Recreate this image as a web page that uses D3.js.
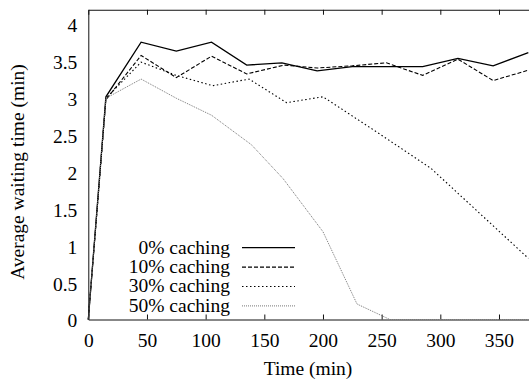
<!DOCTYPE html>
<html>
<head>
<meta charset="utf-8">
<script src="https://cdn.jsdelivr.net/npm/d3@7"></script>
<style>
  body { margin: 0; background: #fff; }
  svg { display: block; }
  text { font-family: "Liberation Serif", "Times New Roman", "DejaVu Serif", serif; }
</style>
</head>
<body>
<svg width="529" height="383"></svg>
<script>
// data
var labels = ['0% caching', '10% caching', '30% caching', '50% caching'];

var time0  = [0, 15, 45, 75, 105, 135, 165, 195, 225, 255, 285, 315, 345, 375];
var wait0  = [0, 3.02, 3.76, 3.64, 3.76, 3.45, 3.48, 3.37, 3.43, 3.43, 3.43, 3.54, 3.44, 3.62];

var time10 = [0, 15, 45, 75, 105, 135, 167, 195, 225, 254, 285, 315, 345, 375];
var wait10 = [0, 2.98, 3.58, 3.28, 3.57, 3.33, 3.45, 3.41, 3.44, 3.48, 3.31, 3.53, 3.24, 3.38];

var time30 = [0, 15, 45, 75, 106, 137, 169, 200, 246, 292, 375];
var wait30 = [0, 3.0, 3.49, 3.31, 3.17, 3.26, 2.94, 3.02, 2.54, 2.05, 0.83];

var time50 = [0, 15, 45, 75, 105, 139, 166, 200, 229, 257, 375];
var wait50 = [0, 3.0, 3.26, 3.0, 2.77, 2.37, 1.91, 1.19, 0.21, 0, 0];

var xTicks = [0, 50, 100, 150, 200, 250, 300, 350];
var yTicks = [0, 0.5, 1, 1.5, 2, 2.5, 3, 3.5, 4];

var series = [
  { name: labels[0], t: time0,  v: wait0,  color: '#000', width: 1.3, dash: null },
  { name: labels[1], t: time10, v: wait10, color: '#000', width: 1.1, dash: '4,2' },
  { name: labels[2], t: time30, v: wait30, color: '#000', width: 1.1, dash: '1.5,2.5' },
  { name: labels[3], t: time50, v: wait50, color: '#777', width: 1,   dash: '1,1' }
];

var svg = d3.select('svg');
var plotLeft = 88.3, plotTop = 9.75, plotBottom = 319.5, plotRight = 534.2;
var serif = '"Liberation Serif", "Times New Roman", "DejaVu Serif", serif';

var xScale = d3.scaleLinear().domain([0, 380]).range([plotLeft, plotRight]);
var yScale = d3.scaleLinear().domain([0, 4.2]).range([plotBottom, plotTop]);

svg.append('clipPath').attr('id', 'plot')
  .append('rect')
    .attr('x', plotLeft - 2).attr('y', plotTop - 2)
    .attr('width', plotRight - plotLeft + 4).attr('height', plotBottom - plotTop + 4);

// bottom axis, ticks pointing inward
var gx = svg.append('g')
  .attr('transform', 'translate(0,' + plotBottom + ')')
  .call(d3.axisBottom(xScale).tickValues(xTicks).tickSize(-5).tickSizeOuter(0));
gx.selectAll('text').attr('y', 27).attr('dy', 0);

// mirrored ticks on top
svg.append('g')
  .attr('transform', 'translate(0,' + plotTop + ')')
  .call(d3.axisTop(xScale).tickValues(xTicks).tickSize(-5).tickSizeOuter(0).tickFormat(''));

// left axis
var gy = svg.append('g')
  .attr('transform', 'translate(' + plotLeft + ',0)')
  .call(d3.axisLeft(yScale).tickValues(yTicks).tickSize(0).tickSizeOuter(0).tickPadding(11)
    .tickFormat(function(d) { return String(d); }));
gy.selectAll('text').attr('dy', '0.38em');

svg.selectAll('g').attr('font-family', serif);
svg.selectAll('.domain').attr('stroke', '#111').attr('stroke-width', 1);
svg.selectAll('.tick line').attr('stroke', '#111');
svg.selectAll('.tick text')
  .attr('fill', '#000')
  .attr('font-family', serif)
  .style('font-size', '19.5px');

// axis titles
svg.append('text')
  .attr('x', 308).attr('y', 375)
  .attr('text-anchor', 'middle')
  .attr('font-family', serif)
  .style('font-size', '19.5px')
  .text('Time (min)');

svg.append('text')
  .attr('transform', 'translate(24,172) rotate(-90)')
  .attr('text-anchor', 'middle')
  .attr('font-family', serif)
  .style('font-size', '19.5px')
  .text('Average waiting time (min)');

var line = d3.line()
  .x(function(d) { return xScale(d[0]); })
  .y(function(d) { return yScale(d[1]); });

svg.append('g').attr('clip-path', 'url(#plot)')
  .selectAll('path')
  .data(series)
  .enter()
  .append('path')
    .attr('fill', 'none')
    .attr('stroke', function(d) { return d.color; })
    .attr('stroke-width', function(d) { return d.width; })
    .attr('stroke-dasharray', function(d) { return d.dash; })
    .attr('d', function(d) { return line(d.t.map(function(t, i) { return [t, d.v[i]]; })); });

// legend
var legend = svg.append('g')
  .selectAll('g')
  .data(series)
  .enter()
  .append('g')
    .attr('transform', function(d, i) { return 'translate(0,' + (247.7 + i * 19.4) + ')'; });

legend.append('text')
  .attr('x', 230).attr('y', 0).attr('dy', '0.3em')
  .attr('text-anchor', 'end')
  .attr('font-family', serif)
  .style('font-size', '19.5px')
  .text(function(d) { return d.name; });

legend.append('line')
  .attr('x1', 242).attr('x2', 295)
  .attr('stroke', function(d) { return d.color; })
  .attr('stroke-width', function(d) { return d.width; })
  .attr('stroke-dasharray', function(d) { return d.dash; });
</script>
</body>
</html>
